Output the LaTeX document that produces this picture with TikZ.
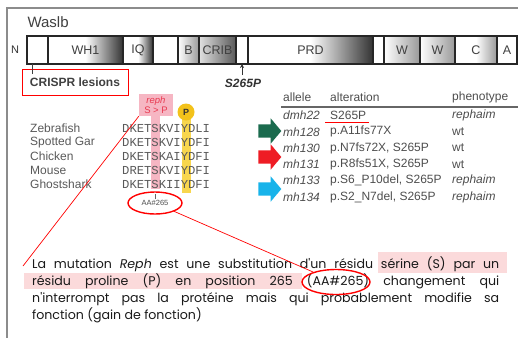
\documentclass[tikz,border=0pt]{standalone}
\usepackage{fontspec}
\setmainfont{Liberation Sans}
\setmonofont{Liberation Mono}
\newfontfamily\parafont{Poppins}
\usetikzlibrary{positioning,shapes.geometric,shapes.arrows,arrows.meta}
\definecolor{frameGray}{HTML}{8C8C8C}
\definecolor{txtGray}{HTML}{4D4D4D}
\definecolor{rephPink}{HTML}{F6B6C3}
\definecolor{rephRed}{HTML}{E8384F}
\definecolor{ylwDot}{HTML}{F3C21B}
\definecolor{ylwBar}{HTML}{F8D64E}
\definecolor{hlPink}{HTML}{FBDADB}
\definecolor{arrGreen}{HTML}{1B6B4E}
\definecolor{arrRed}{HTML}{EE1C24}
\definecolor{arrBlue}{HTML}{18B3EA}

\begin{document}
\begin{tikzpicture}[x=1pt,y=-1pt,
	dom/.style={draw=black!85, line width=1.1pt, minimum height=28pt, inner sep=0pt, outer sep=0pt, anchor=west, font=\fontsize{12.5}{12.5}\selectfont, text=black!75},
	shd/.style={left color=white, right color=black!80, middle color=white},
	lite/.style={left color=white, right color=black!40},
	tab/.style={anchor=west, inner sep=0pt, font=\fontsize{12}{12}\selectfont, text=txtGray},
	spname/.style={anchor=west, inner sep=0pt, font=\fontsize{12}{12}\selectfont, text=black!65},
	seq/.style={anchor=west, inner sep=0pt, font=\ttfamily\fontsize{12.2}{12.2}\selectfont, text=black!65},
	blockarr/.style={single arrow, draw=none, inner xsep=0pt, inner ysep=6.5pt, minimum height=23pt, single arrow head extend=6pt, single arrow tip angle=100},
	para/.style={anchor=base west, inner sep=0pt, font=\parafont\fontsize{12.6}{12.6}\selectfont, text=black!90},
	redring/.style={ellipse, draw=red, line width=1.4pt, inner sep=0pt}
	]
	\useasboundingbox (0,0) rectangle (518,338);
	\draw[frameGray, line width=1.5pt] (518,8) -| (7,338);
	
	\node[anchor=west, font=\fontsize{15}{15}\selectfont, text=black!75] (title) at (24,22) {Waslb};
	\node[font=\fontsize{11}{11}\selectfont, text=black!80] (nterm) at (15,50) {N};
	
	\node[dom, minimum width=21pt] (n0) at (27,50) {};
	\node[dom, shd, minimum width=75pt, right=0pt of n0] (wh1) {WH1};
	\node[dom, shd, minimum width=30pt, right=0pt of wh1] (iq) {IQ};
	\node[dom, minimum width=25pt, right=0pt of iq] (gap1) {};
	\node[dom, lite, minimum width=21pt, right=0pt of gap1] (bdom) {B};
	\node[dom, left color=black!12, right color=black!65, minimum width=37pt, right=0pt of bdom] (crib) {CRIB};
	\node[dom, minimum width=12pt, right=0pt of crib] (gap2) {};
	\node[dom, shd, minimum width=125pt, right=0pt of gap2] (prd) {PRD};
	\node[dom, minimum width=11pt, right=0pt of prd] (gap3) {};
	\node[dom, lite, minimum width=36pt, right=0pt of gap3] (w1) {W};
	\node[dom, lite, minimum width=35pt, right=0pt of w1] (w2) {W};
	\node[dom, lite, middle color=white, minimum width=42pt, right=0pt of w2] (cdom) {C};
	\node[dom, minimum width=20pt, right=0pt of cdom] (adom) {A};
	
	\node[draw=red, line width=1pt, minimum width=106pt, minimum height=26pt, font=\bfseries\fontsize{12}{12}\selectfont, text=black!75] (crispr) at (75,82) {CRISPR lesions};
	\draw[black!75, line width=0.8pt] (n0.south west) ++(5,0) -- ++(0,10);
	\node[font=\bfseries\itshape\fontsize{12}{12}\selectfont, text=black!80] (s265p) at (243,83) {S265P};
	\draw[-{Stealth[length=4pt,width=4pt]}, black!80, line width=0.8pt] (s265p.north -| gap2.south) -- (gap2.south);
	
	\node[tab] (hal) at (283,97) {allele};
	\node[tab] (halt) at (330,97) {alteration};
	\node[tab] (hph) at (452,97) {phenotype};
	\draw[black!60, line width=1.2pt] (281,107) -- (518,107);
	\foreach \al/\alt/\ph [count=\i from 0] in {dmh22/S265P/\textit{rephaim}, mh128/p.A11fs77X/wt, mh130/{p.N7fs72X, S265P}/wt, mh131/{p.R8fs51X, S265P}/wt, mh133/{p.S6\_P10del, S265P}/\textit{rephaim}, mh134/{p.S2\_N7del, S265P}/\textit{rephaim}}{
		\node[tab] (al\i) at (283,115.5+16.3*\i) {\textit{\al}};
		\node[tab] (alt\i) at (330,115.5+16.3*\i) {\alt};
		\node[tab] (ph\i) at (452,115.5+16.3*\i) {\ph};
	}
	\draw[red, line width=1.2pt] ([xshift=-5pt,yshift=-2.5pt]alt0.south west) -- ([xshift=3pt,yshift=-2.5pt]alt0.south east);
	
	\node[blockarr, fill=arrGreen] (garr) at (267,131) {};
	\node[blockarr, fill=arrRed] (rarr) at (267,157) {};
	\node[blockarr, fill=arrBlue] (barr) at (267,189) {};
	
	\fill[rephPink] (151,112) rectangle (160,189);
	\fill[ylwBar] (181.5,112) rectangle (190.5,193);
	\node[fill=rephPink, minimum width=34pt, minimum height=22pt, inner sep=0pt, align=center, text=rephRed, font=\fontsize{9.5}{10.5}\selectfont] (reph) at (156,105) {\textit{reph}\\S > P};
	\node[circle, fill=ylwDot, minimum size=17pt, inner sep=0pt, font=\bfseries\fontsize{9}{9}\selectfont, text=black!80] (pdot) at (186,112) {P};
	\foreach \sp/\sq [count=\i] in {Zebrafish/DKETSKVIYDLI, Spotted Gar/DKETSKVIYDFI, Chicken/DKETSKAIYDFI, Mouse/DRETSKVIYDFI, Ghostshark/DKETSKIIYDFI}{
		\node[spname] (sp\i) at (30,114+14*\i) {\sp};
		\node[seq] (sq\i) at (122,114+14*\i) {\sq};
	}
	\draw[black!60, line width=0.6pt] (155,194) -- (155,199);
	\node[redring, minimum width=54pt, minimum height=22pt, font=\fontsize{7.5}{7.5}\selectfont, text=black!70] (aa) at (155,203) {AA\#265};
	
	\fill[hlPink] (378,252) rectangle (507,273);
	\fill[hlPink] (24,273) rectangle (302,289);
	\node[para] (l1) at (32,268) {\makebox[467pt][s]{La mutation \textit{Reph} est une substitution d'un résidu sérine (S) par un}};
	\node[para] (l2) at (32,285) {\makebox[467pt][s]{résidu proline (P) en position 265 (AA\#265) changement qui}};
	\node[para] (l3) at (32,302) {\makebox[467pt][s]{n'interrompt pas la protéine mais qui probablement modifie sa}};
	\node[para] (l4) at (32,319) {fonction (gain de fonction)};
	\node[redring, minimum width=68pt, minimum height=25pt] (aatext) at (336,282) {};
	
	\coordinate (lnend) at (23,266);
	\draw[red, line width=0.7pt] (reph.south west) -- (lnend);
	\draw[red, line width=0.7pt] (aa) -- (aatext);
\end{tikzpicture}
\end{document}
